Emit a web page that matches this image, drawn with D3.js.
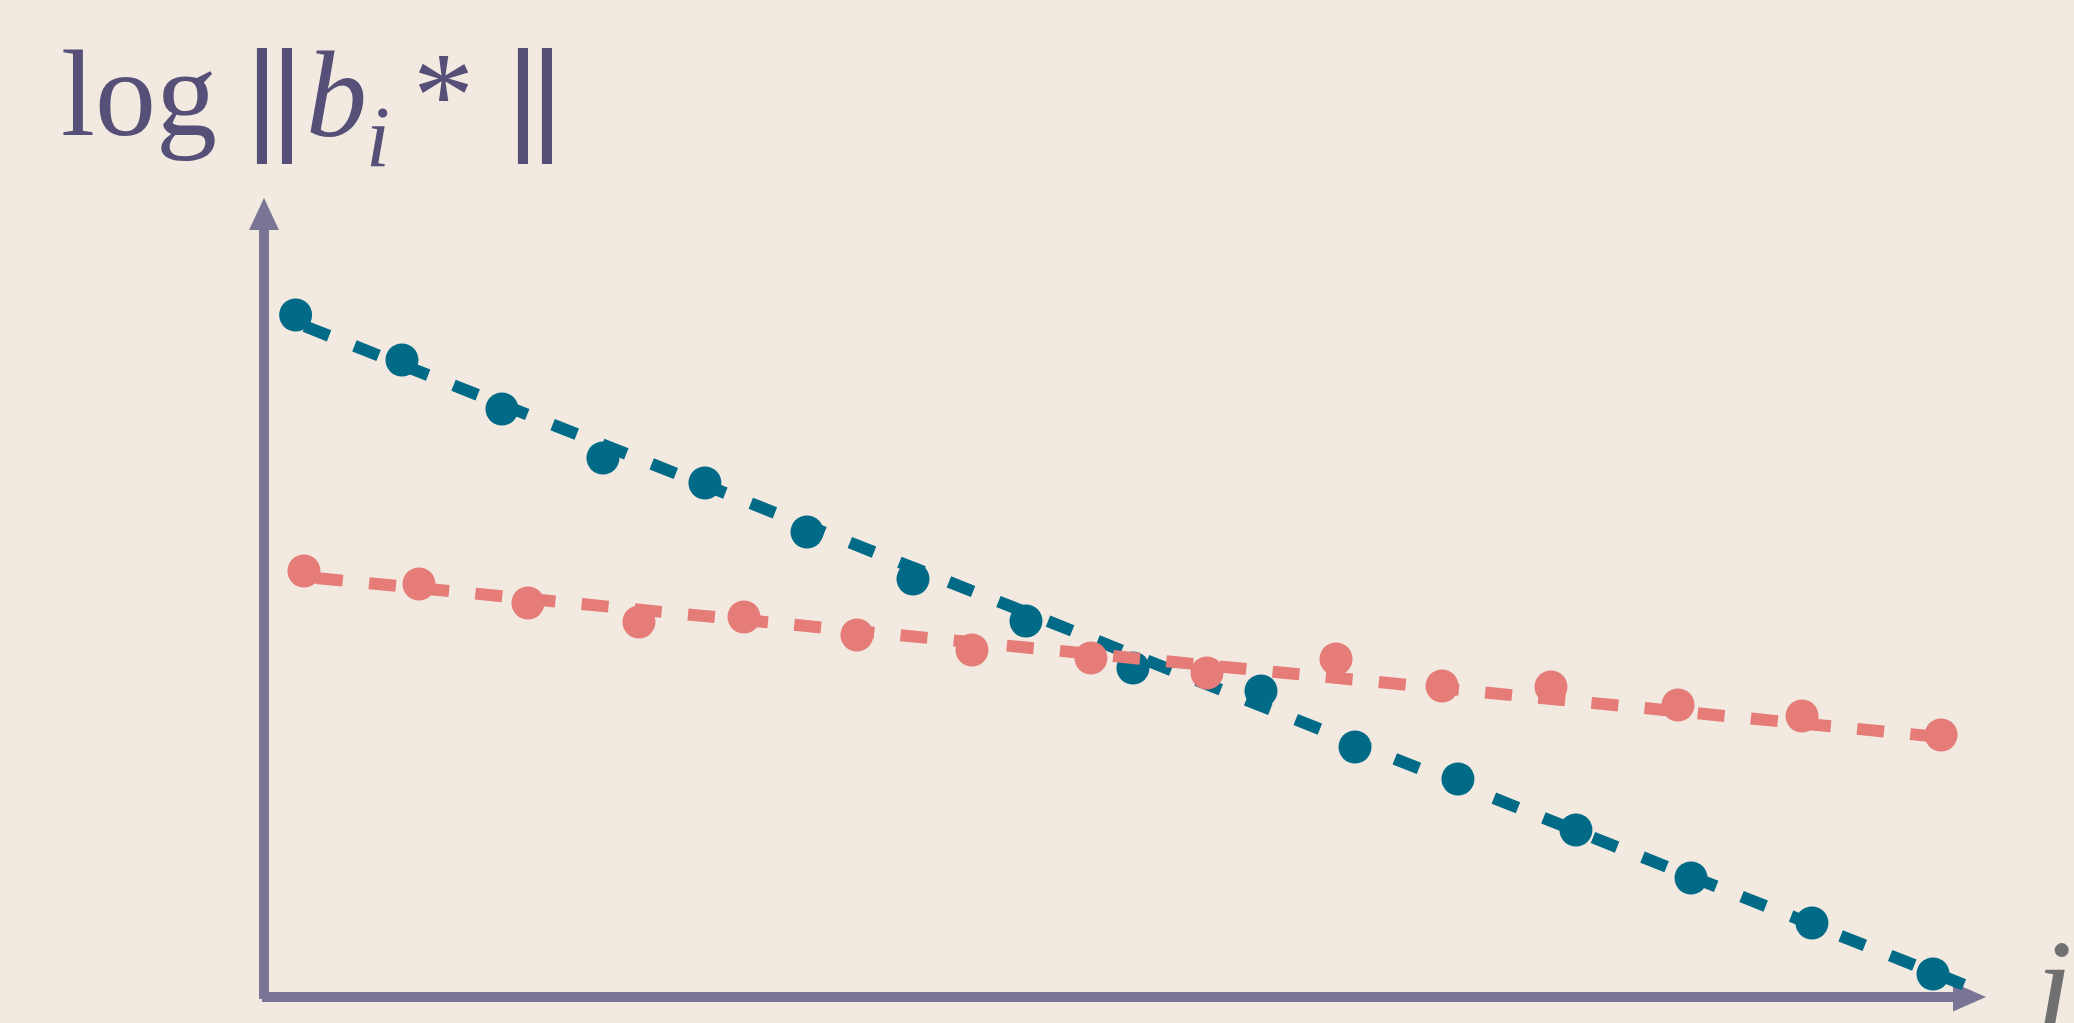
<!DOCTYPE html>
<html>
<head>
<meta charset="utf-8">
<script src="https://cdn.jsdelivr.net/npm/d3@7"></script>
<style>
  html, body { margin: 0; padding: 0; background: #f2e9e0; overflow: hidden; }
  svg { display: block; }
  .serif { font-family: "Liberation Serif", "Times New Roman", Tinos, Times, serif; }
</style>
</head>
<body>
<script>
// ---- data (index i along x, log-norm along y; arbitrary units) ----
const tealX = [0.00, 0.975, 1.892, 2.818, 3.753, 4.689, 5.661, 6.697, 7.678, 8.852, 9.714, 10.658, 11.740, 12.795, 13.904, 15.014];
const tealY = [8.536, 7.972, 7.359, 6.746, 6.433, 5.820, 5.232, 4.706, 4.118, 3.830, 3.129, 2.728, 2.090, 1.489, 0.926, 0.288];
const redX  = [0.076, 1.131, 2.130, 3.148, 4.111, 5.147, 6.202, 7.293, 8.357, 9.540, 10.512, 11.511, 12.676, 13.813, 15.088];
const redY  = [5.332, 5.169, 4.931, 4.693, 4.756, 4.531, 4.343, 4.243, 4.055, 4.230, 3.892, 3.880, 3.655, 3.517, 3.279];
// trend lines (start / end)
const tealTrendX = [0.085, 15.298];
const tealTrendY = [8.395, 0.153];
const redTrendX  = [0.186, 15.033];
const redTrendY  = [5.244, 3.260];
// axis extents
const xDomain = [-0.29, 15.5];
const yDomain = [0, 10];
const yAxisLabel = ["log", "|", "|", "b", "i", "*", "|", "|"];
const xAxisLabel = "i";

const W = 2074, H = 1023;
const C = {
  bg: "#f2e9e0", teal: "#006a87", red: "#e57c78",
  axis: "#7a7596", title: "#565079", xlab: "#707070"
};

const svg = d3.select("body").append("svg").attr("width", W).attr("height", H);
svg.append("rect").attr("width", W).attr("height", H).attr("fill", C.bg);

const x = d3.scaleLinear().domain(xDomain).range([264, 1986]);
const y = d3.scaleLinear().domain(yDomain).range([997, 198]);

// ---- axes ----
const ax = svg.append("g").attr("fill", C.axis).attr("stroke", C.axis);
const x0 = x(xDomain[0]), y0 = y(yDomain[0]);
const xTip = x(xDomain[1]), yTip = y(yDomain[1]);
ax.append("line").attr("x1", x0).attr("x2", x0)
  .attr("y1", y0 + 2).attr("y2", yTip + 32).attr("stroke-width", 10);
ax.append("line").attr("x1", x0 - 2).attr("x2", xTip - 33)
  .attr("y1", y0).attr("y2", y0).attr("stroke-width", 10);
ax.append("path").attr("stroke", "none")
  .attr("d", `M${x0},${yTip} L${x0 + 15},${yTip + 32} L${x0 - 15},${yTip + 32} Z`);
ax.append("path").attr("stroke", "none")
  .attr("d", `M${xTip},${y0} L${xTip - 33},${y0 + 14.5} L${xTip - 33},${y0 - 14.5} Z`);

// ---- series ----
function series(xs, ys, tx, ty, color, dash) {
  const g = svg.append("g");
  g.append("line")
    .attr("x1", x(tx[0])).attr("y1", y(ty[0]))
    .attr("x2", x(tx[1])).attr("y2", y(ty[1]))
    .attr("stroke", color).attr("stroke-width", 12)
    .attr("stroke-dasharray", dash);
  g.selectAll("circle").data(xs.map((v, i) => [v, ys[i]])).join("circle")
    .attr("cx", d => x(d[0])).attr("cy", d => y(d[1]))
    .attr("r", 16.5).attr("fill", color);
}
series(tealX, tealY, tealTrendX, tealTrendY, C.teal, "26 27.3");
series(redX, redY, redTrendX, redTrendY, C.red, "27 26.4");

// ---- y label: log ||b_i* || ----
const parts = [
  { s: yAxisLabel[0], x: 61, y: 135, size: 122, it: false, bar: false },
  { s: yAxisLabel[1], x: 262, y: 136, size: 122, it: false, bar: true },
  { s: yAxisLabel[2], x: 287, y: 136, size: 122, it: false, bar: true },
  { s: yAxisLabel[3], x: 306, y: 136, size: 122, it: true, bar: false },
  { s: yAxisLabel[4], x: 366, y: 166, size: 86, it: true, bar: false },
  { s: yAxisLabel[5], x: 413, y: 136, size: 122, it: false, bar: false },
  { s: yAxisLabel[6], x: 523, y: 136, size: 122, it: false, bar: true },
  { s: yAxisLabel[7], x: 547, y: 136, size: 122, it: false, bar: true }
];
parts.forEach(p => {
  const e = svg.append("text").attr("class", "serif")
    .attr("fill", C.title).attr("font-size", p.size)
    .attr("x", p.x).attr("y", p.y)
    .style("font-style", p.it ? "italic" : "normal")
    .text(p.s);
  if (p.bar) e.attr("text-anchor", "middle").attr("stroke", C.title).attr("stroke-width", 4);
});

// ---- x label ----
svg.append("text").attr("class", "serif")
  .attr("x", 2036).attr("y", 1030)
  .style("font-style", "italic").attr("font-size", 132)
  .attr("fill", C.xlab).text(xAxisLabel);
</script>
</body>
</html>
